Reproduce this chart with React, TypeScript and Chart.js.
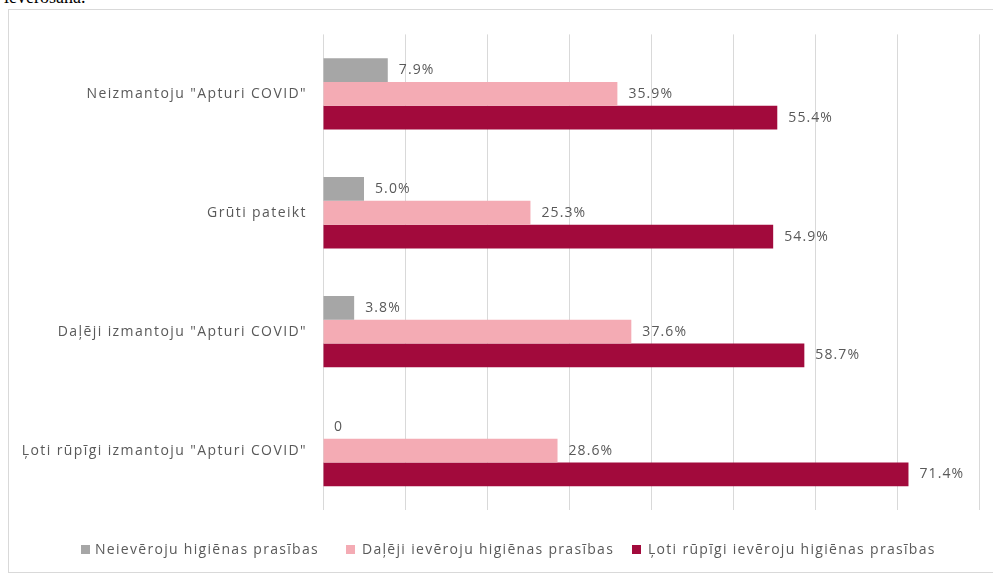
import React, { useEffect, useRef } from "react";
import { Chart, registerables } from "chart.js";

Chart.register(...registerables);

const categories = [
  'Neizmantoju "Apturi COVID"',
  "Grūti pateikt",
  'Daļēji izmantoju "Apturi COVID"',
  'Ļoti rūpīgi izmantoju "Apturi COVID"',
];
const seriesNames = [
  "Neievēroju higiēnas prasības",
  "Daļēji ievēroju higiēnas prasības",
  "Ļoti rūpīgi ievēroju higiēnas prasības",
];
const notObserving = [7.9, 5.0, 3.8, 0];
const partlyObserving = [35.9, 25.3, 37.6, 28.6];
const carefullyObserving = [55.4, 54.9, 58.7, 71.4];
const colors = ["#a6a6a6", "#f4abb4", "#a20a3c"];
const xMax = 80;
const xStep = 10;

const FONT = "'Open Sans', 'Noto Sans', sans-serif";
const TEXT = "#595959";

const spacingPlugin = {
  id: "letterSpacing",
  beforeDraw(chart: any) {
    chart.ctx.letterSpacing = "1.4px";
  },
};

const labelPlugin = {
  id: "barValueLabels",
  afterDatasetsDraw(chart: any) {
    const ctx = chart.ctx;
    ctx.save();
    ctx.letterSpacing = "1.1px";
    ctx.font = `14px ${FONT}`;
    ctx.fillStyle = TEXT;
    ctx.textAlign = "left";
    ctx.textBaseline = "middle";
    chart.data.datasets.forEach((ds: any, i: number) => {
      const meta = chart.getDatasetMeta(i);
      meta.data.forEach((el: any, j: number) => {
        const v = ds.data[j];
        const txt = v === 0 ? "0" : v.toFixed(1) + "%";
        ctx.fillText(txt, el.x + 11, el.y);
      });
    });
    ctx.restore();
  },
};

export default function App() {
  const ref = useRef<HTMLCanvasElement>(null);
  useEffect(() => {
    document.body.style.margin = "0";
    const chart = new Chart(ref.current!, {
      type: "bar",
      data: {
        labels: categories,
        datasets: [notObserving, partlyObserving, carefullyObserving].map((d, i) => ({
          label: seriesNames[i],
          data: d,
          backgroundColor: colors[i],
          borderWidth: 0,
          categoryPercentage: 0.6,
          barPercentage: 1.0,
        })),
      },
      options: {
        indexAxis: "y",
        animation: false,
        responsive: false,
        maintainAspectRatio: false,
        layout: { padding: { left: 0, right: 14, top: 23, bottom: 62 } },
        plugins: { legend: { display: false }, tooltip: { enabled: false } },
        scales: {
          x: {
            min: 0,
            max: xMax,
            ticks: { display: false, stepSize: xStep },
            grid: { color: "#d9d9d9", drawTicks: false, lineWidth: 1 },
            border: { display: false },
            afterFit(scale: any) {
              scale.height = 0;
            },
          },
          y: {
            grid: { display: false, drawTicks: false },
            border: { display: false },
            ticks: {
              color: TEXT,
              font: { family: FONT, size: 14 },
              padding: 16,
            },
            afterFit(scale: any) {
              scale.width = 314;
            },
          },
        },
      },
      plugins: [spacingPlugin, labelPlugin],
    });
    return () => chart.destroy();
  }, []);

  const legendItem = (sq: number, tx: number, i: number) => (
    <React.Fragment key={i}>
      <div
        style={{
          position: "absolute",
          left: sq,
          top: 545,
          width: 9,
          height: 9,
          background: colors[i],
        }}
      />
      <div
        style={{
          position: "absolute",
          left: tx,
          top: 539,
          font: `14px ${FONT}`,
          letterSpacing: "1.3px",
          color: TEXT,
          whiteSpace: "nowrap",
          lineHeight: "20px",
        }}
      >
        {seriesNames[i]}
      </div>
    </React.Fragment>
  );

  return (
    <div style={{ position: "relative", width: 993, height: 575, overflow: "hidden", background: "#fff" }}>
      <div
        style={{
          position: "absolute",
          left: 4,
          top: -13,
          font: "18px 'Liberation Serif', 'DejaVu Serif', serif",
          lineHeight: "20px",
          color: "#000",
          whiteSpace: "nowrap",
        }}
      >
        ievērošanā.
      </div>
      <div
        style={{
          position: "absolute",
          left: 8,
          top: 9,
          width: 990,
          height: 562,
          border: "1px solid #d9d9d9",
        }}
      />
      <canvas
        ref={ref}
        width={984}
        height={562}
        style={{ position: "absolute", left: 9, top: 10, width: 984, height: 562 }}
      />
      {legendItem(81, 95, 0)}
      {legendItem(346, 362, 1)}
      {legendItem(632, 648, 2)}
    </div>
  );
}
